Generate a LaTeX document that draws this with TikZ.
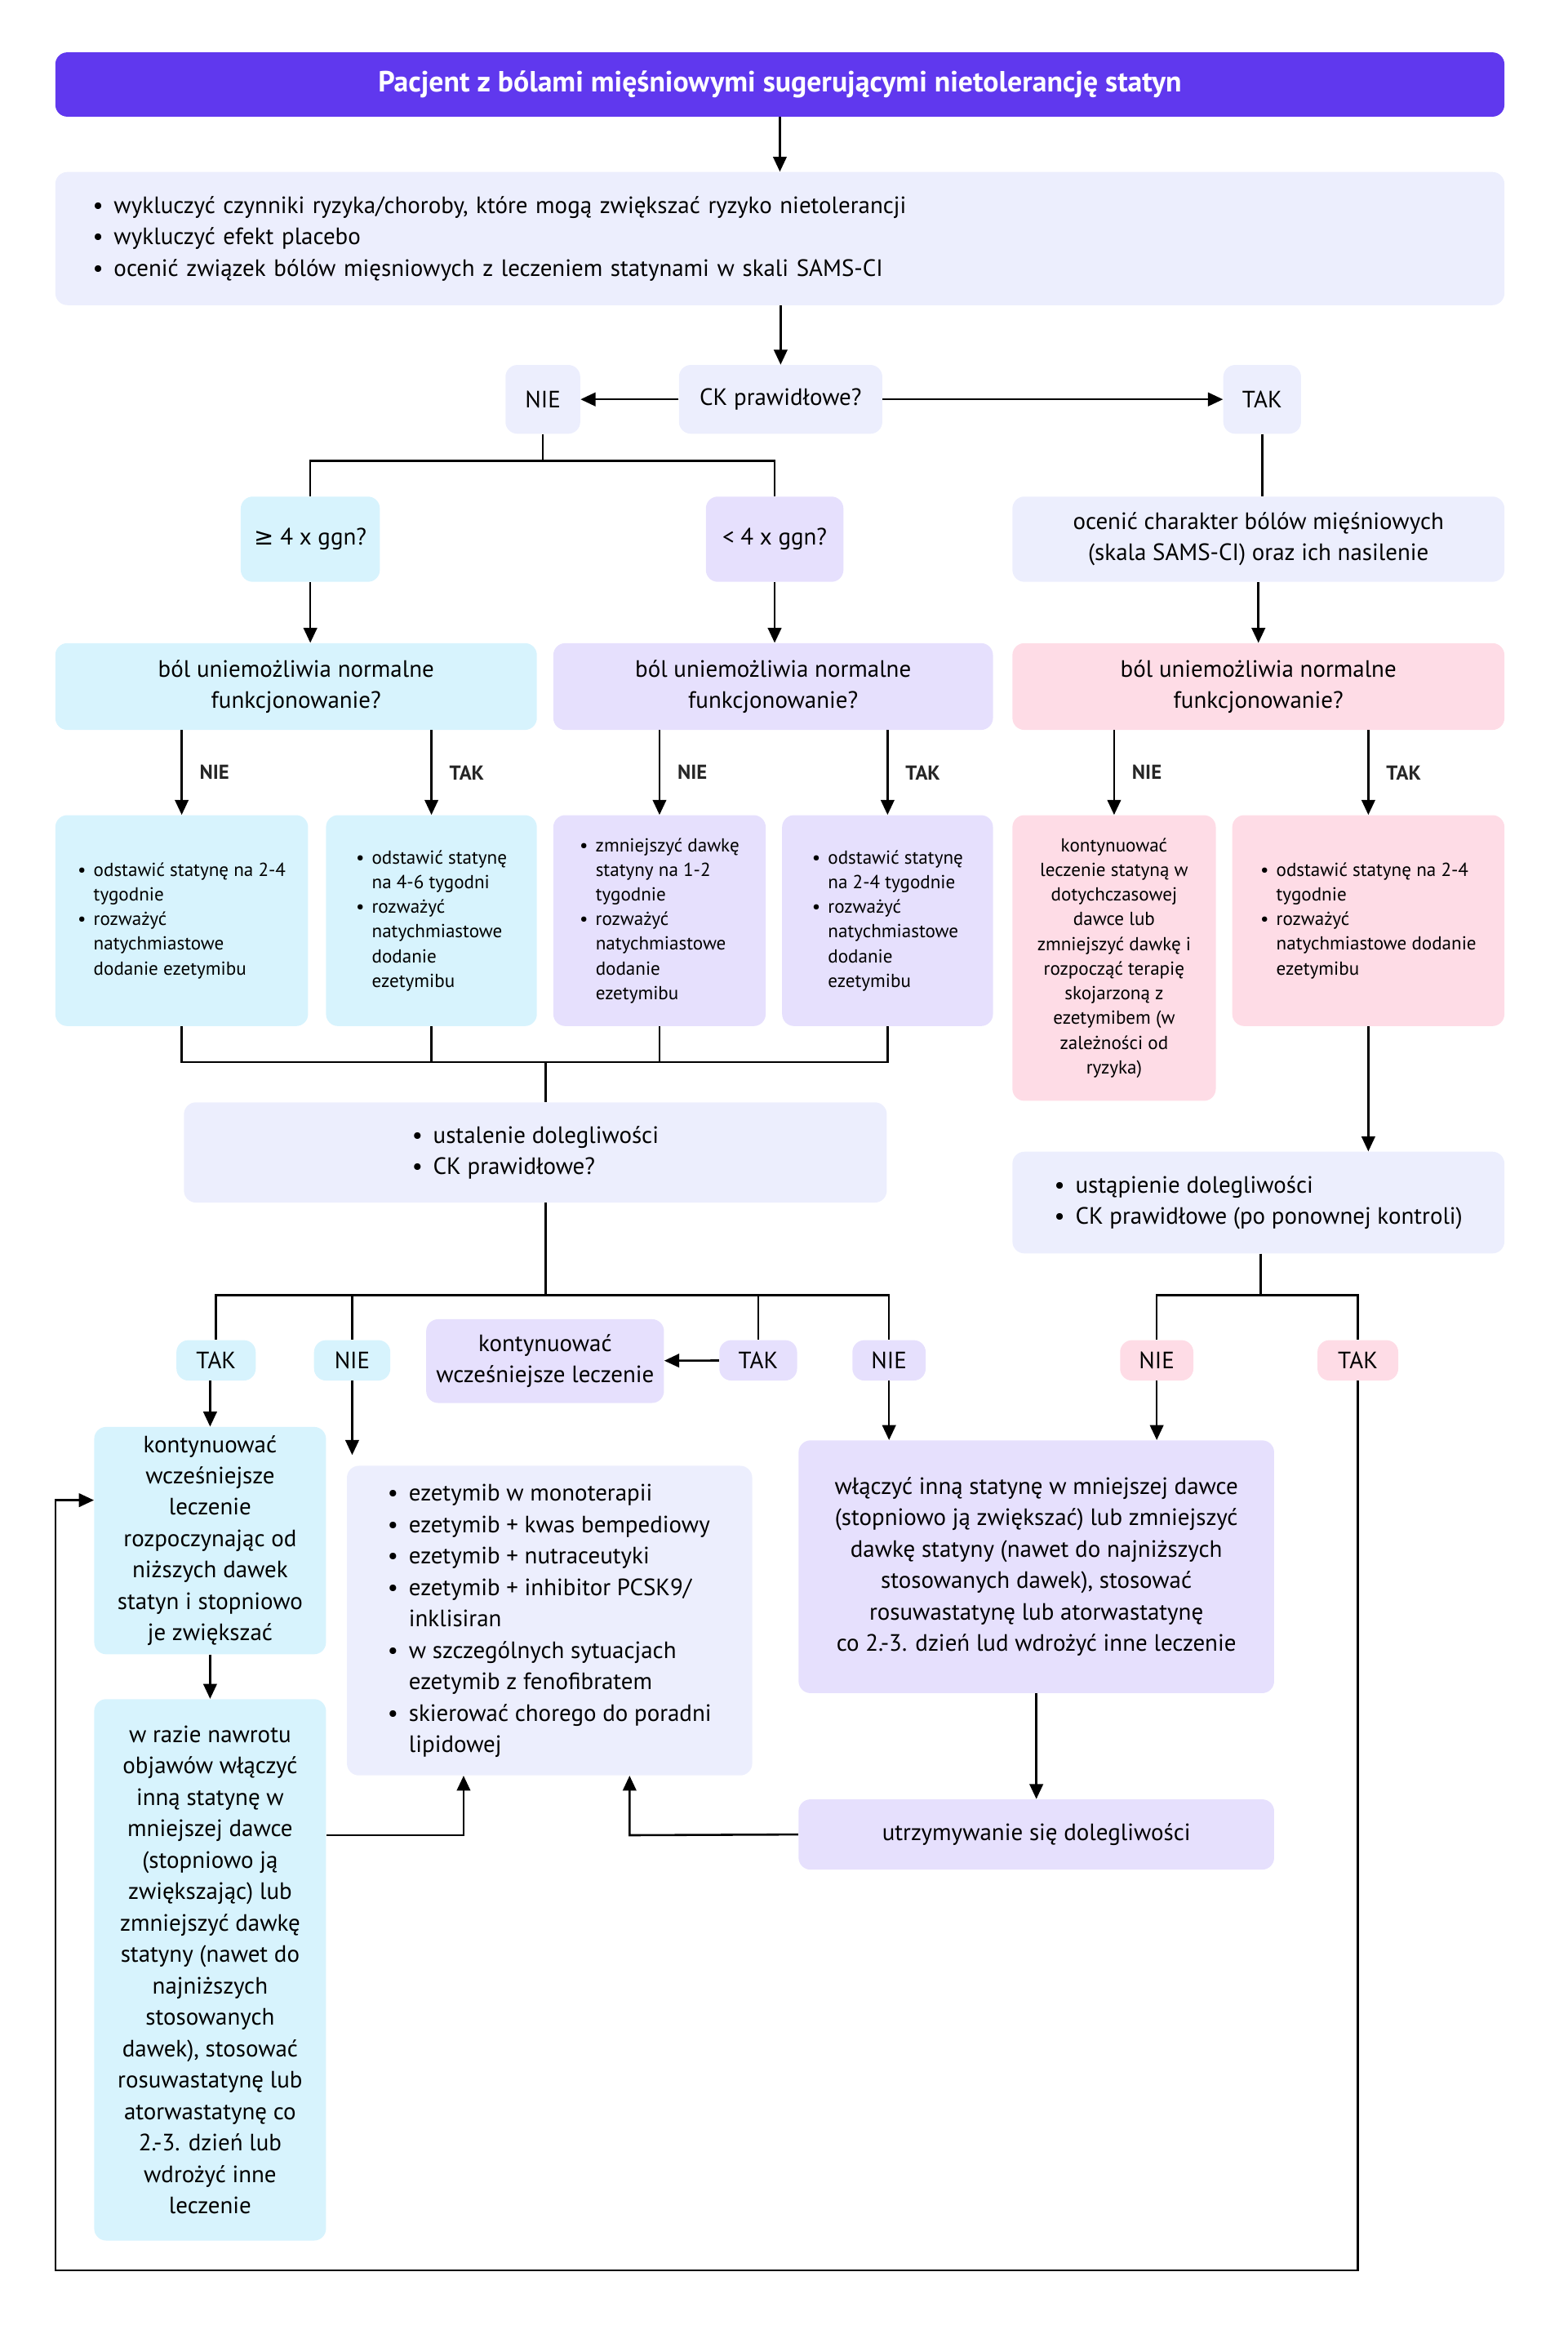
\documentclass[tikz,border=0pt]{standalone}
\usepackage{fontspec}
\setmainfont{PT Sans}
\newfontfamily\symf{DejaVu Sans}
\usetikzlibrary{arrows.meta}
\definecolor{titlecol}{HTML}{6038EE}
\definecolor{greycol}{HTML}{ECEEFD}
\definecolor{cyancol}{HTML}{D7F3FD}
\definecolor{lavcol}{HTML}{E6E0FD}
\definecolor{pinkcol}{HTML}{FEDCE6}
\newcommand{\bu}{\textbullet}
\newcommand{\blist}[1]{\begin{tabular}{@{}l@{\hspace{7pt}}l@{}}#1\end{tabular}}
\newcommand{\sblist}[1]{\begin{tabular}{@{}l@{\hspace{5pt}}l@{}}#1\end{tabular}}
\tikzset{
  box/.style={rounded corners=8pt, inner sep=0pt, align=center, font=\fontsize{15.8}{21}\selectfont},
  small/.style={font=\fontsize{12.6}{16.5}\selectfont},
  greybox/.style={box, fill=greycol},
  cyanbox/.style={box, fill=cyancol},
  lavbox/.style={box, fill=lavcol},
  pinkbox/.style={box, fill=pinkcol},
  ln/.style={line width=1.4pt},
  arr/.style={ln, -{Triangle[width=9pt,length=10pt]}},
  lab/.style={font=\fontsize{13.5}{16}\selectfont\bfseries, text=black!85}
}
\begin{document}
\begin{tikzpicture}[x=1pt, y=-1pt]
  \useasboundingbox (0,0) rectangle (1048,1566.5);
  \node[box, fill=titlecol, text=white, font=\fontsize{19.5}{23}\selectfont\bfseries,
    minimum width=969pt, minimum height=43pt] (title) at (521.5,56.5)
    {Pacjent z bólami mięśniowymi sugerującymi nietolerancję statyn};
  \node[greybox, align=left, inner xsep=25pt, text width=919pt, minimum height=89pt] (excl) at (521.5,159.5)
    {\blist{\bu & wykluczyć czynniki ryzyka/choroby, które mogą zwiększać ryzyko nietolerancji\\
     \bu & wykluczyć efekt placebo\\
     \bu & ocenić związek bólów mięsniowych z leczeniem statynami w skali SAMS-CI}};
  \node[greybox, minimum width=136pt, minimum height=46pt] (ck) at (522,267) {CK prawidłowe?};
  \node[greybox, minimum width=50pt, minimum height=46pt] (nie0) at (363,267) {NIE};
  \node[greybox, minimum width=52pt, minimum height=46pt] (tak0) at (844,267) {TAK};
  \node[cyanbox, minimum width=93pt, minimum height=57pt] (ge) at (207.5,360.5) {{\symf ≥} 4 x ggn?};
  \node[lavbox, minimum width=92pt, minimum height=57pt] (lt) at (518,360.5) {< 4 x ggn?};
  \node[greybox, minimum width=329pt, minimum height=57pt] (ocen) at (841.5,360.5)
    {ocenić charakter bólów mięśniowych\\(skala SAMS-CI) oraz ich nasilenie};
  \node[cyanbox, minimum width=322pt, minimum height=58pt] (bol1) at (198,459)
    {ból uniemożliwia normalne\\funkcjonowanie?};
  \node[lavbox, minimum width=294pt, minimum height=58pt] (bol2) at (517,459)
    {ból uniemożliwia normalne\\funkcjonowanie?};
  \node[pinkbox, minimum width=329pt, minimum height=58pt] (bol3) at (841.5,459)
    {ból uniemożliwia normalne\\funkcjonowanie?};
  \node[cyanbox, small, minimum width=169pt, minimum height=141pt] (r1) at (121.5,615.5)
    {\sblist{\bu & odstawić statynę na 2-4\\ & tygodnie\\ \bu & rozważyć\\ & natychmiastowe\\ & dodanie ezetymibu}};
  \node[cyanbox, small, minimum width=141pt, minimum height=141pt] (r2) at (288.5,615.5)
    {\sblist{\bu & odstawić statynę\\ & na 4-6 tygodni\\ \bu & rozważyć\\ & natychmiastowe\\ & dodanie\\ & ezetymibu}};
  \node[lavbox, small, minimum width=142pt, minimum height=141pt] (r3) at (441,615.5)
    {\sblist{\bu & zmniejszyć dawkę\\ & statyny na 1-2\\ & tygodnie\\ \bu & rozważyć\\ & natychmiastowe\\ & dodanie\\ & ezetymibu}};
  \node[lavbox, small, minimum width=141pt, minimum height=141pt] (r4) at (593.5,615.5)
    {\sblist{\bu & odstawić statynę\\ & na 2-4 tygodnie\\ \bu & rozważyć\\ & natychmiastowe\\ & dodanie\\ & ezetymibu}};
  \node[pinkbox, small, minimum width=136pt, minimum height=191pt] (p1) at (745,640.5)
    {kontynuować\\leczenie statyną w\\dotychczasowej\\dawce lub\\zmniejszyć dawkę i\\rozpocząć terapię\\skojarzoną z\\ezetymibem (w\\zależności od\\ryzyka)};
  \node[pinkbox, small, minimum width=182pt, minimum height=141pt] (p2) at (915,615.5)
    {\sblist{\bu & odstawić statynę na 2-4\\ & tygodnie\\ \bu & rozważyć\\ & natychmiastowe dodanie\\ & ezetymibu}};
  \node[greybox, minimum width=470pt, minimum height=67pt] (ust) at (358,770.5)
    {\blist{\bu & ustalenie dolegliwości\\ \bu & CK prawidłowe?}};
  \node[greybox, minimum width=329pt, minimum height=68pt] (ust2) at (841.5,804)
    {\blist{\bu & ustąpienie dolegliwości\\ \bu & CK prawidłowe (po ponownej kontroli)}};
  \node[cyanbox, minimum width=53pt, minimum height=27pt] (tk1) at (144.5,909.5) {TAK};
  \node[cyanbox, minimum width=51pt, minimum height=27pt] (ni1) at (235.5,909.5) {NIE};
  \node[lavbox, minimum width=159pt, minimum height=56pt] (kont) at (364.5,910)
    {kontynuować\\wcześniejsze leczenie};
  \node[lavbox, minimum width=52pt, minimum height=27pt] (tk2) at (507,909.5) {TAK};
  \node[lavbox, minimum width=49pt, minimum height=27pt] (ni2) at (594.5,909.5) {NIE};
  \node[pinkbox, minimum width=49pt, minimum height=27pt] (ni3) at (773.5,909.5) {NIE};
  \node[pinkbox, minimum width=54pt, minimum height=27pt] (tk3) at (908,909.5) {TAK};
  \node[cyanbox, minimum width=155pt, minimum height=152pt] (c1) at (140.5,1030)
    {kontynuować\\wcześniejsze\\leczenie\\rozpoczynając od\\niższych dawek\\statyn i stopniowo\\je zwiększać};
  \node[cyanbox, minimum width=155pt, minimum height=362pt] (c2) at (140.5,1317)
    {w razie nawrotu\\objawów włączyć\\inną statynę w\\mniejszej dawce\\(stopniowo ją\\zwiększając) lub\\zmniejszyć dawkę\\statyny (nawet do\\najniższych\\stosowanych\\dawek), stosować\\rosuwastatynę lub\\atorwastatynę co\\2.-3. dzień lub\\wdrożyć inne\\leczenie};
  \node[greybox, minimum width=271pt, minimum height=207pt] (ez) at (367.5,1083.5)
    {\blist{\bu & ezetymib w monoterapii\\ \bu & ezetymib + kwas bempediowy\\ \bu & ezetymib + nutraceutyki\\
     \bu & ezetymib + inhibitor PCSK9/\\ & inklisiran\\ \bu & w szczególnych sytuacjach\\ & ezetymib z fenofibratem\\
     \bu & skierować chorego do poradni\\ & lipidowej}};
  \node[lavbox, minimum width=318pt, minimum height=169pt] (wl) at (693,1047.5)
    {włączyć inną statynę w mniejszej dawce\\(stopniowo ją zwiększać) lub zmniejszyć\\dawkę statyny (nawet do najniższych\\stosowanych dawek), stosować\\rosuwastatynę lub atorwastatynę\\co 2.-3. dzień lud wdrożyć inne leczenie};
  \node[lavbox, minimum width=318pt, minimum height=47pt] (ut) at (693,1226.5) {utrzymywanie się dolegliwości};

  \draw[arr] (title) -- (excl);
  \draw[arr] (ck.north |- excl.south) -- (ck.north);
  \draw[arr] (ck) -- (nie0);
  \draw[arr] (ck) -- (tak0);
  \coordinate (s1) at (363,308);
  \draw[ln] (nie0.south) -- (s1);
  \draw[ln] (ge.north) |- (s1) -| (lt.north);
  \draw[ln] (tak0.south) -- (tak0.south |- ocen.north);
  \draw[arr] (ge.south) -- (ge.south |- bol1.north);
  \draw[arr] (lt.south) -- (lt.south |- bol2.north);
  \draw[arr] (ocen) -- (bol3);
  \draw[arr] (r1.north |- bol1.south) -- node[lab, right=8pt] {NIE} (r1.north);
  \draw[arr] (r2.north |- bol1.south) -- node[lab, right=8pt] {TAK} (r2.north);
  \draw[arr] (r3.north |- bol2.south) -- node[lab, right=8pt] {NIE} (r3.north);
  \draw[arr] (r4.north |- bol2.south) -- node[lab, right=8pt] {TAK} (r4.north);
  \draw[arr] (p1.north |- bol3.south) -- node[lab, right=8pt] {NIE} (p1.north);
  \draw[arr] (p2.north |- bol3.south) -- node[lab, right=8pt] {TAK} (p2.north);
  \coordinate (m1) at (365,710);
  \draw[ln] (r1.south) |- (r4.south |- m1) -- (r4.south);
  \draw[ln] (r2.south) -- (r2.south |- m1);
  \draw[ln] (r3.south) -- (r3.south |- m1);
  \draw[ln] (m1) -- (m1 |- ust.north);
  \draw[arr] (p2.south) -- (p2.south |- ust2.north);
  \coordinate (m2) at (365,866);
  \draw[ln] (m2 |- ust.south) -- (m2);
  \draw[ln] (tk1.north) |- (m2) -| (ni2.north);
  \draw[ln] (ni1.north) -- (ni1.north |- m2);
  \draw[ln] (tk2.north) -- (tk2.north |- m2);
  \draw[arr] (tk2) -- (kont);
  \coordinate (m3) at (843,866);
  \draw[ln] (m3 |- ust2.south) -- (m3);
  \draw[ln] (ni3.north) |- (m3) -| (tk3.north);
  \draw[arr] (c1.north |- tk1.south) -- (c1.north);
  \draw[arr] (ni1.south) -- ([yshift=7pt]ni1.south |- ez.north);
  \draw[arr] (ni2.south) -- (ni2.south |- wl.north);
  \draw[arr] (ni3.south) -- (ni3.south |- wl.north);
  \coordinate (lp) at (37,1518);
  \coordinate (lq) at (37,1003);
  \draw[arr] (tk3.south) |- (lp) -- (lq) -- (lq -| c1.west);
  \draw[arr] (c1) -- (c2);
  \coordinate (j1) at (310,1227);
  \draw[arr] (c2.east |- j1) -- (j1) -- (j1 |- ez.south);
  \draw[arr] (wl) -- (ut);
  \coordinate (j2) at (421,1227);
  \draw[arr] (ut.west) -- (j2) -- (j2 |- ez.south);
\end{tikzpicture}
\end{document}
